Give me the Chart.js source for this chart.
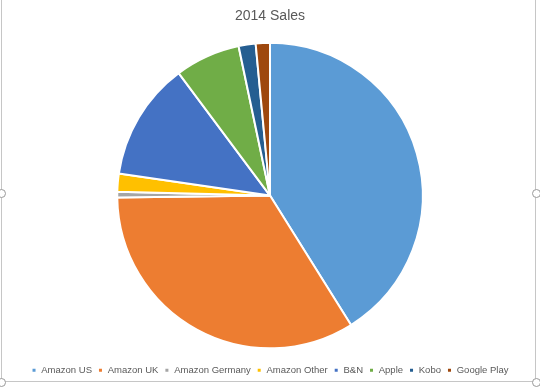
<!DOCTYPE html>
<html>
<head>
<meta charset="utf-8">
<script src="https://cdn.jsdelivr.net/npm/chart.js@4/dist/chart.umd.min.js"></script>
<style>
  body { margin: 0; background: #fff; }
  #wrap { position: relative; width: 540px; height: 390px; }
  #frame { position: absolute; left: 1px; top: -2px; width: 535px; height: 384px;
    border: 1px solid #c6c6c6; box-sizing: border-box; }
  .handle { position: absolute; width: 9px; height: 9px; border: 1px solid #9a9a9a;
    border-radius: 50%; background: #fff; box-sizing: border-box; }
</style>
</head>
<body>
<div id="wrap">
  <div id="frame"></div>
  <div class="handle" style="left:-3px; top:189px"></div>
  <div class="handle" style="left:532px; top:189px"></div>
  <div class="handle" style="left:-3px; top:378px"></div>
  <div class="handle" style="left:532px; top:378px"></div>
  <canvas id="sales-chart" width="540" height="390" style="position:absolute;left:0;top:0"></canvas>
</div>
<script>
const CHART_TITLE = '2014 Sales';

const stores = ['Amazon US', 'Amazon UK', 'Amazon Germany', 'Amazon Other', 'B&N', 'Apple', 'Kobo', 'Google Play'];
const sales = [41.1, 33.7, 0.6, 1.9, 12.5, 6.9, 1.8, 1.5];   // share of sales (%)
const colors = ['#5B9BD5', '#ED7D31', '#A5A5A5', '#FFC000', '#4472C4', '#70AD47', '#255E91', '#9E480E'];

const chart = new Chart(document.getElementById('sales-chart'), {
  type: 'pie',
  data: {
    labels: stores,
    datasets: [{
      data: sales,
      backgroundColor: colors,
      borderColor: '#ffffff',
      borderWidth: 2
    }]
  },
  options: {
    responsive: false, animation: false,
    layout: { padding: { left: 0, right: 0, top: 0, bottom: 5 } },
    plugins: {
      title: { display: true, text: CHART_TITLE, color: '#595959',
        font: { family: 'Liberation Sans', size: 14, weight: 'normal' }, padding: { top: 8, bottom: 17 } },
      legend: { position: 'bottom',
        // empty legend title only adds a gap between the pie and the legend row
        title: { display: true, text: '', font: { size: 1 }, padding: { top: 0, bottom: 9 } },
        labels: { color: '#595959', font: { family: 'Liberation Sans', size: 9.5 },
          usePointStyle: true, pointStyle: 'rect', boxWidth: 5, boxHeight: 5, padding: 6 } },
      tooltip: { enabled: false }
    }
  }
});
</script>
</body>
</html>
